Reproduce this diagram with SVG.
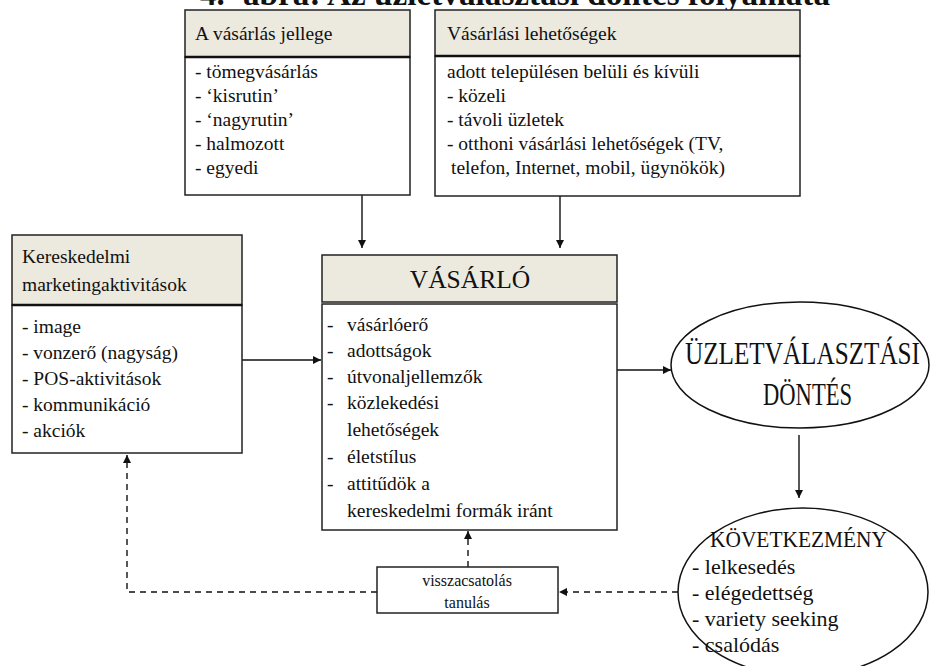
<svg xmlns="http://www.w3.org/2000/svg" width="930" height="666" viewBox="0 0 930 666">
<style>
  text { font-family: "Liberation Serif", "Times New Roman", serif; fill: #111; }
  .t { font-size: 19.5px; }
  .hdr { fill: #ECE9DF; stroke: #222; stroke-width: 1.5; }
  .body { fill: #fff; stroke: #222; stroke-width: 1.5; }
  .sep { stroke: #111; stroke-width: 2.5; }
  .ln { stroke: #111; stroke-width: 1.4; fill: none; }
  .dash { stroke: #111; stroke-width: 1.4; fill: none; stroke-dasharray: 6 5; }
  .ell { fill: #fff; stroke: #111; stroke-width: 1.5; }
  .el { font-size: 22px; }
</style>
<defs>
  <marker id="ah" viewBox="0 0 10 10" refX="10" refY="5" markerWidth="8" markerHeight="8" markerUnits="userSpaceOnUse" orient="auto">
    <path d="M0,0 L10,5 L0,10 z" fill="#111"/>
  </marker>
</defs>
<rect width="930" height="666" fill="#fff"/>

<g id="title">
  <text x="200" y="5" style="font-size:33px;font-weight:bold">4.</text>
  <text x="243" y="5" style="font-size:33px;font-weight:bold" textLength="587" lengthAdjust="spacingAndGlyphs">ábra: Az üzletválasztási döntés folyamata</text>
</g>

<g id="connectors">
  <line class="ln" x1="362" y1="195" x2="362" y2="248" marker-end="url(#ah)"/>
  <line class="ln" x1="560" y1="196" x2="560" y2="248" marker-end="url(#ah)"/>
  <line class="ln" x1="242" y1="360" x2="321" y2="360" marker-end="url(#ah)"/>
  <line class="ln" x1="617" y1="370" x2="671" y2="370" marker-end="url(#ah)"/>
  <line class="ln" x1="799" y1="435" x2="799" y2="498" marker-end="url(#ah)"/>
  <line class="dash" x1="678" y1="592" x2="559" y2="592" marker-end="url(#ah)"/>
  <line class="dash" x1="468" y1="567" x2="468" y2="531" marker-end="url(#ah)"/>
  <polyline class="dash" points="377,592 127,592 127,455" marker-end="url(#ah)"/>
</g>

<g id="vasarlas-jellege">
  <rect class="hdr" x="185" y="10" width="225" height="47"/>
  <rect class="body" x="185" y="57" width="225" height="138"/>
  <line class="sep" x1="185" y1="57" x2="410" y2="57"/>
  <text class="t" x="195" y="40">A vásárlás jellege</text>
  <text class="t" x="195" y="78">- tömegvásárlás</text>
  <text class="t" x="195" y="102">- ‘kisrutin’</text>
  <text class="t" x="195" y="126">- ‘nagyrutin’</text>
  <text class="t" x="195" y="150">- halmozott</text>
  <text class="t" x="195" y="174">- egyedi</text>
</g>

<g id="vasarlasi-lehetosegek">
  <rect class="hdr" x="435" y="10" width="365" height="46"/>
  <rect class="body" x="435" y="56" width="365" height="140"/>
  <line class="sep" x1="435" y1="56" x2="800" y2="56"/>
  <text class="t" x="447" y="40">Vásárlási lehetőségek</text>
  <text class="t" x="447" y="78">adott településen belüli és kívüli</text>
  <text class="t" x="447" y="102">- közeli</text>
  <text class="t" x="447" y="126">- távoli üzletek</text>
  <text class="t" x="447" y="150">- otthoni vásárlási lehetőségek (TV,</text>
  <text class="t" x="451" y="174">telefon, Internet, mobil, ügynökök)</text>
</g>

<g id="kereskedelmi">
  <rect class="hdr" x="12" y="235" width="230" height="70"/>
  <rect class="body" x="12" y="305" width="230" height="148"/>
  <line class="sep" x1="12" y1="305" x2="242" y2="305"/>
  <text class="t" x="22" y="263">Kereskedelmi</text>
  <text class="t" x="22" y="291">marketingaktivitások</text>
  <text class="t" x="22" y="333">- image</text>
  <text class="t" x="22" y="359">- vonzerő (nagyság)</text>
  <text class="t" x="22" y="385">- POS-aktivitások</text>
  <text class="t" x="22" y="411">- kommunikáció</text>
  <text class="t" x="22" y="437">- akciók</text>
</g>

<g id="vasarlo">
  <rect class="hdr" x="322" y="255" width="295" height="47"/>
  <rect class="body" x="322" y="304" width="295" height="226"/>
  <text x="470" y="288" text-anchor="middle" style="font-size:25.5px">VÁSÁRLÓ</text>
  <text class="t" x="327" y="331">-</text><text class="t" x="347" y="331">vásárlóerő</text>
  <text class="t" x="327" y="357">-</text><text class="t" x="347" y="357">adottságok</text>
  <text class="t" x="327" y="383">-</text><text class="t" x="347" y="383">útvonaljellemzők</text>
  <text class="t" x="327" y="409">-</text><text class="t" x="347" y="409">közlekedési</text>
  <text class="t" x="347" y="436">lehetőségek</text>
  <text class="t" x="327" y="463">-</text><text class="t" x="347" y="463">életstílus</text>
  <text class="t" x="327" y="490">-</text><text class="t" x="347" y="490">attitűdök a</text>
  <text class="t" x="347" y="517">kereskedelmi formák iránt</text>
</g>

<g id="uzletvalasztasi-dontes">
  <ellipse class="ell" cx="800" cy="365" rx="129" ry="63"/>
  <text x="685" y="364" style="font-size:32px" textLength="235" lengthAdjust="spacingAndGlyphs">ÜZLETVÁLASZTÁSI</text>
  <text x="763" y="405" style="font-size:32px" textLength="89" lengthAdjust="spacingAndGlyphs">DÖNTÉS</text>
</g>

<g id="kovetkezmeny">
  <ellipse class="ell" cx="803" cy="592" rx="125" ry="84"/>
  <text x="710" y="547" style="font-size:24px" textLength="177" lengthAdjust="spacingAndGlyphs">KÖVETKEZMÉNY</text>
  <text class="el" x="692" y="574">- lelkesedés</text>
  <text class="el" x="692" y="600">- elégedettség</text>
  <text class="el" x="692" y="626">- variety seeking</text>
  <text class="el" x="692" y="652">- csalódás</text>
</g>

<g id="visszacsatolas">
  <rect class="body" x="377" y="567" width="181" height="46"/>
  <text x="467" y="586" text-anchor="middle" style="font-size:16px">visszacsatolás</text>
  <text x="467" y="608" text-anchor="middle" style="font-size:16px">tanulás</text>
</g>
</svg>
